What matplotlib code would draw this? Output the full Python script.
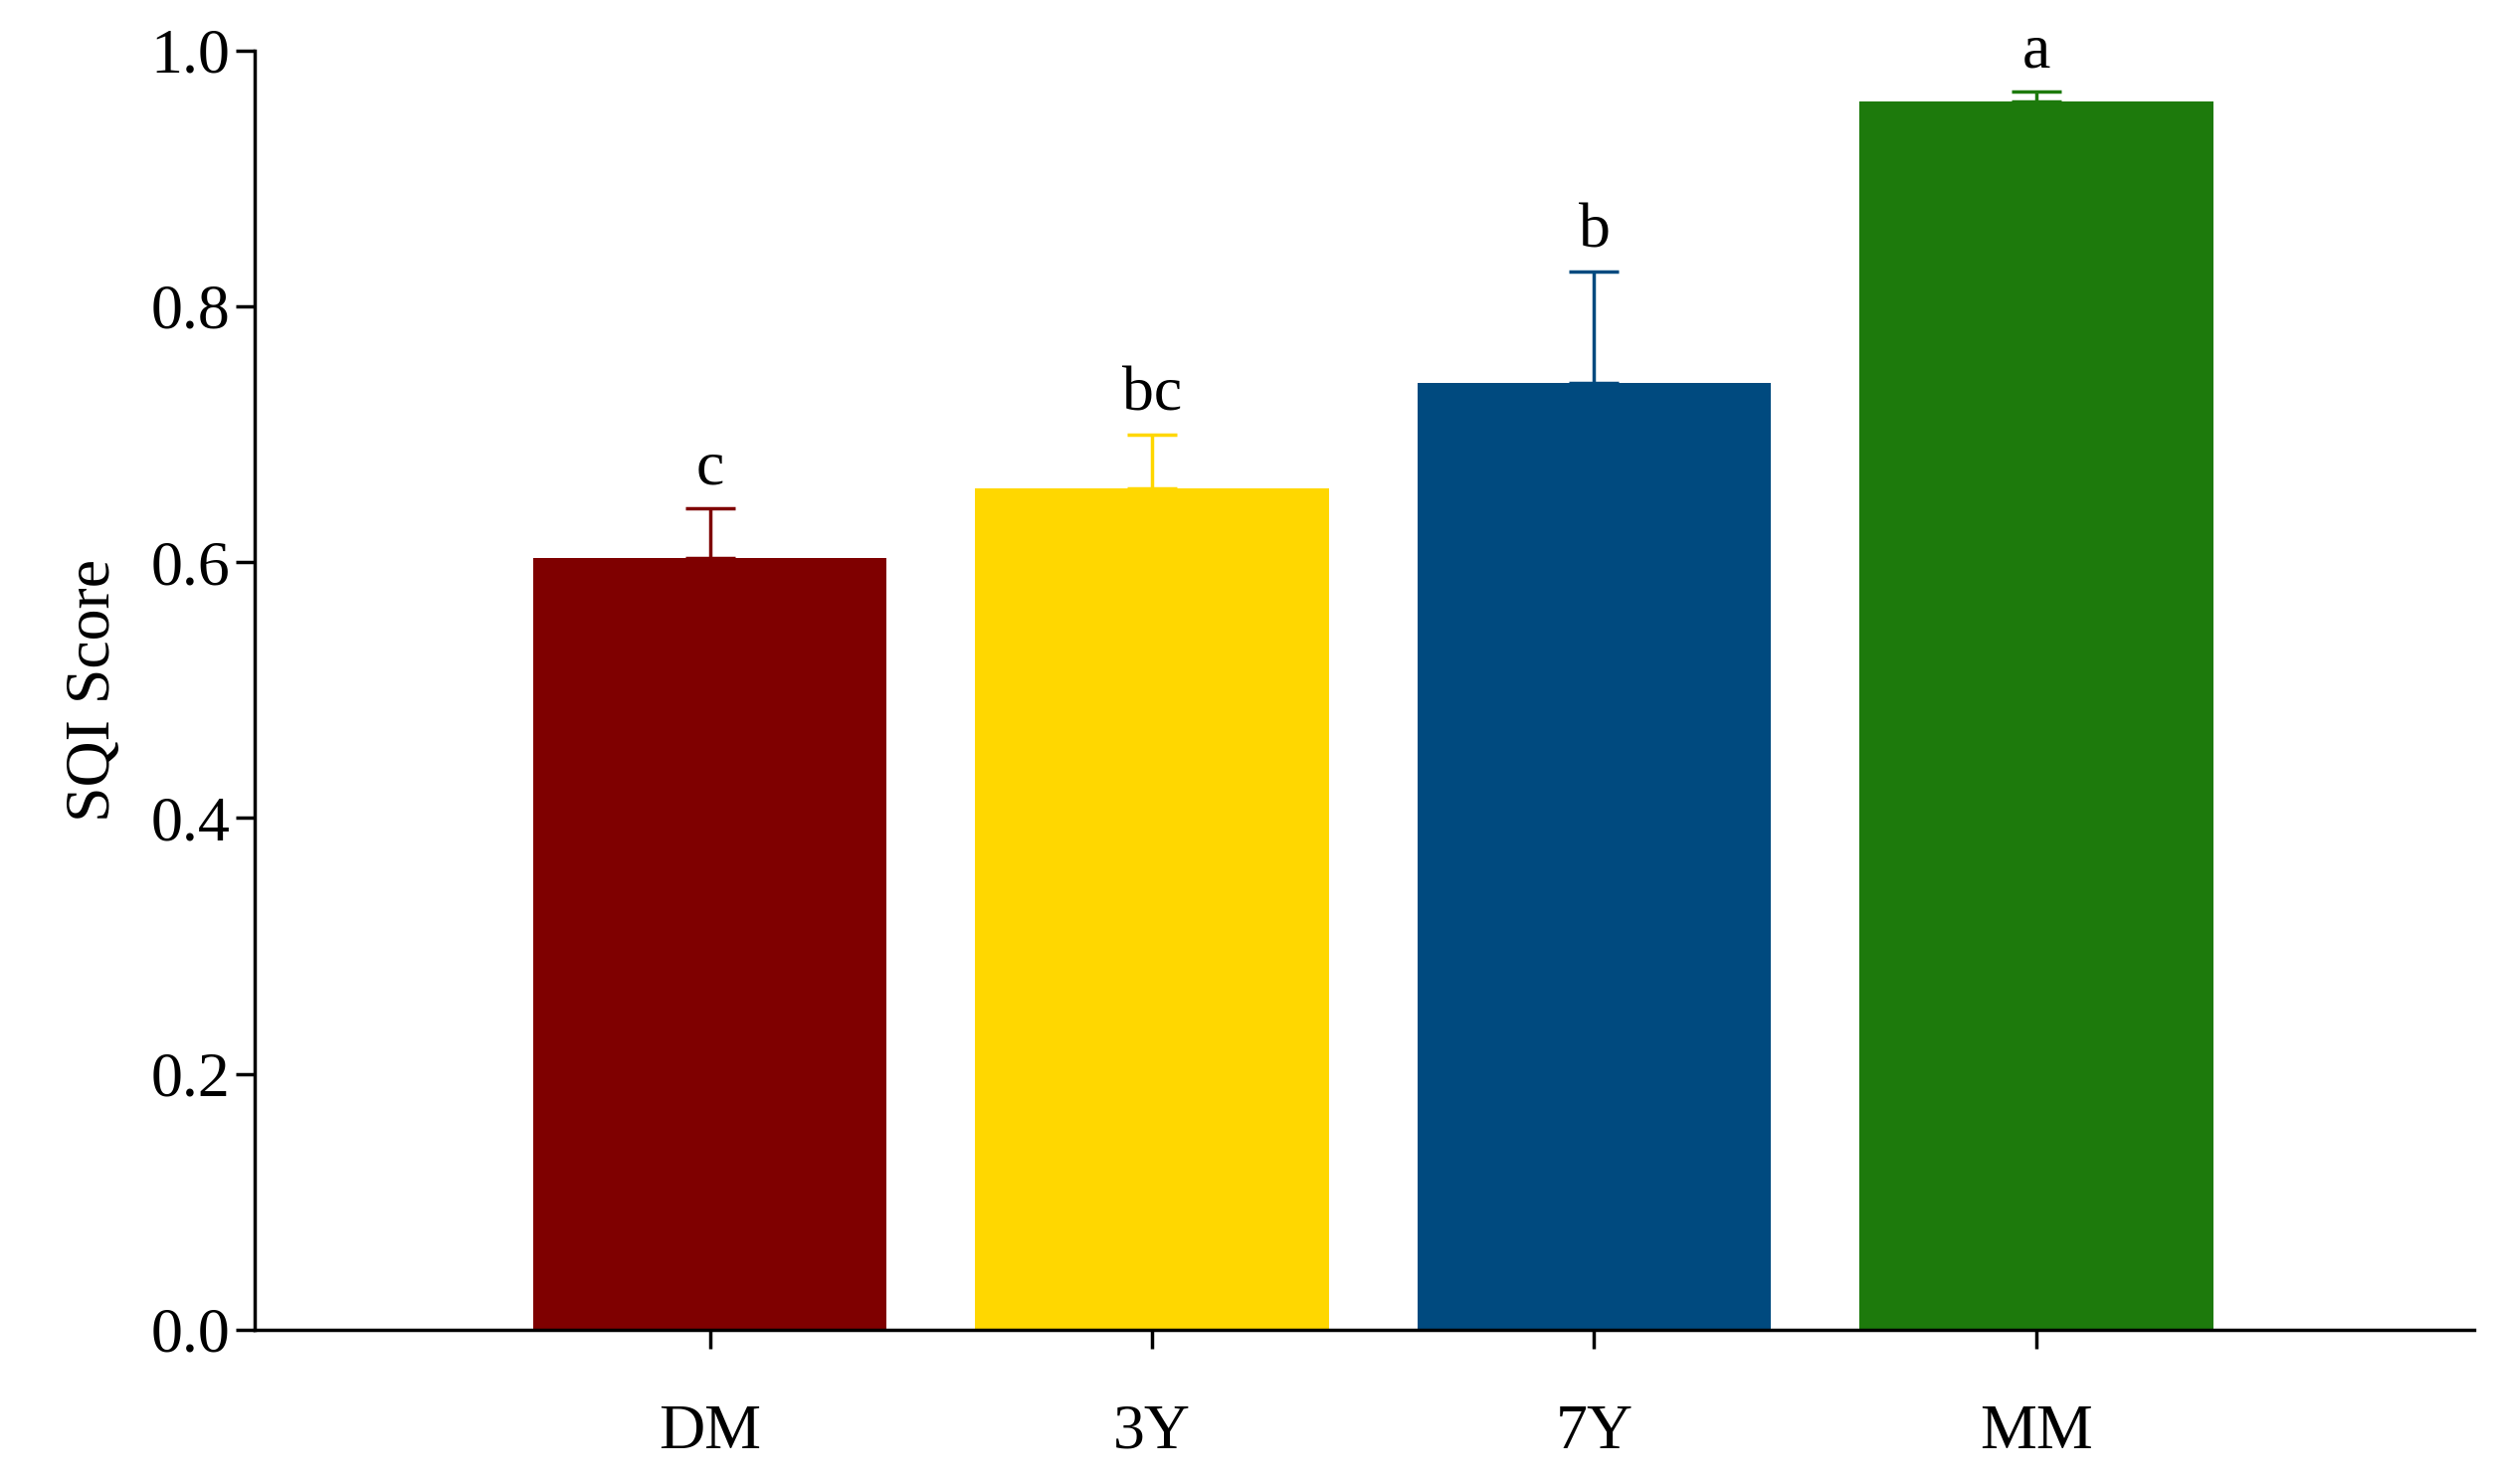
import matplotlib
matplotlib.use('Agg')
import matplotlib.pyplot as plt

groups = ['DM', '3Y', '7Y', 'MM']
sqi = [0.603, 0.658, 0.740, 0.960]
sqi_err = [0.039, 0.042, 0.087, 0.008]
letters = ['c', 'bc', 'b', 'a']
colors = ['#7f0000', '#ffd700', '#004a7f', '#1d7a0c']

plt.rcParams['font.family'] = ['Liberation Serif', 'DejaVu Serif']

fig = plt.figure(figsize=(25.07, 14.92), dpi=100)
ax = fig.add_axes([0.102, 0.104, 0.890, 0.862])

x = range(len(groups))
ax.bar(x, sqi, width=0.8, color=colors)
for xi, v, e, c, lab in zip(x, sqi, sqi_err, colors, letters):
    ax.errorbar(xi, v, yerr=[[0], [e]], color=c, capsize=18, capthick=2.5,
                elinewidth=2.5)
    ax.text(xi, v + e + 0.008, lab, ha='center', va='bottom', fontsize=46)

ax.set_xlim(-1.03, 3.99)
ax.set_ylim(0, 1.0)
ax.set_yticks([0.0, 0.2, 0.4, 0.6, 0.8, 1.0])
ax.set_yticklabels(['%.1f' % t for t in ax.get_yticks()])
ax.set_xticks(list(x))
ax.set_xticklabels(groups)
ax.tick_params(axis='both', labelsize=46, width=2.5, length=14, direction='out')
ax.tick_params(axis='x', pad=40)
ax.set_ylabel('SQI Score', fontsize=46, labelpad=20)
for s in ['top', 'right']:
    ax.spines[s].set_visible(False)
for s in ['left', 'bottom']:
    ax.spines[s].set_linewidth(2.5)

plt.savefig('out.png', dpi=100)
